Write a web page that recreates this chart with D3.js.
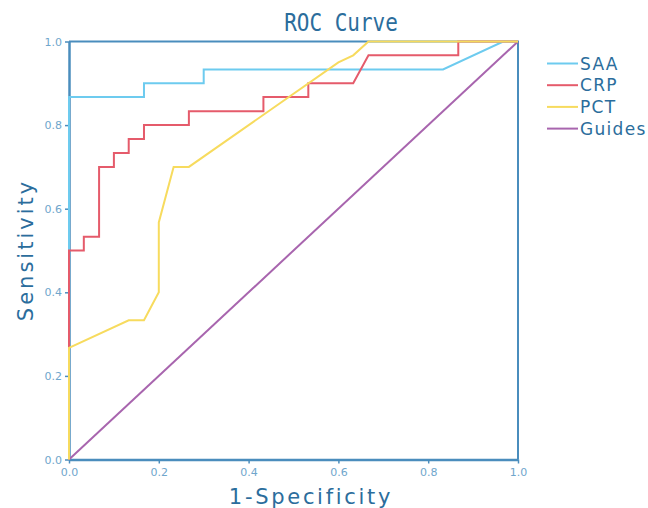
<!DOCTYPE html>
<html>
<head>
<meta charset="utf-8">
<script src="https://cdn.jsdelivr.net/npm/d3@7"></script>
<style>
  body { margin: 0; background: #fff; }
  .tick text { font-family: "DejaVu Sans", sans-serif; font-size: 11px; fill: #6fa6cc; }
  .tick line, .domain { stroke: #4a8dbd; }
</style>
</head>
<body>
<div id="chart"></div>
<script>
// ROC data (1-specificity / sensitivity)
var saaX = [0, 0, 0.167, 0.167, 0.3, 0.3, 0.833, 0.967, 1];
var saaY = [0, 0.867, 0.867, 0.9, 0.9, 0.933, 0.933, 1, 1];

var crpX = [0, 0, 0.033, 0.033, 0.067, 0.067, 0.1, 0.1, 0.133, 0.133, 0.167, 0.167, 0.267, 0.267, 0.433, 0.433, 0.533, 0.533, 0.633, 0.667, 0.867, 0.867, 1];
var crpY = [0, 0.5, 0.5, 0.533, 0.533, 0.7, 0.7, 0.733, 0.733, 0.767, 0.767, 0.8, 0.8, 0.833, 0.833, 0.867, 0.867, 0.9, 0.9, 0.967, 0.967, 1, 1];

var pctX = [0, 0, 0.133, 0.167, 0.2, 0.2, 0.233, 0.267, 0.6, 0.633, 0.667, 1];
var pctY = [0, 0.267, 0.333, 0.333, 0.4, 0.567, 0.7, 0.7, 0.95, 0.967, 1, 1];

var guideX = [0, 1];
var guideY = [0, 1];

var tickVals = [0, 0.2, 0.4, 0.6, 0.8, 1.0];
var seriesNames = ["SAA", "CRP", "PCT", "Guides"];
var seriesColors = ["#6dcbef", "#e55b6b", "#f7db5e", "#a865ae"];

var width = 648, height = 508;
var svg = d3.select("#chart").append("svg")
  .attr("width", width).attr("height", height);

var x = d3.scaleLinear().domain([0, 1]).range([69, 518]);
var y = d3.scaleLinear().domain([0, 1]).range([459.5, 41.5]);

// frame: top and right
svg.append("path")
  .attr("d", "M" + x(0) + "," + y(1) + "H" + x(1) + "V" + y(0))
  .attr("fill", "none").attr("stroke", "#4a8dbd").attr("stroke-width", 2);

var xAxis = svg.append("g")
  .attr("transform", "translate(0," + y(0) + ")")
  .call(d3.axisBottom(x).tickValues(tickVals).tickFormat(d3.format(".1f")).tickSize(4).tickSizeOuter(0));
xAxis.select(".domain").attr("stroke-width", 2.5);
xAxis.selectAll(".tick text").attr("dy", "0.9em");

var yAxis = svg.append("g")
  .attr("transform", "translate(" + x(0) + ",0)")
  .call(d3.axisLeft(y).tickValues(tickVals).tickFormat(d3.format(".1f")).tickSize(4).tickSizeOuter(0));
yAxis.select(".domain").attr("stroke-width", 2.5);
yAxis.selectAll(".tick line").attr("stroke-width", 1.5);
xAxis.selectAll(".tick line").attr("stroke-width", 1.5);

var line = d3.line()
  .x(function(d) { return x(d[0]); })
  .y(function(d) { return y(d[1]); });

var series = [
  { xs: guideX, ys: guideY, color: seriesColors[3] },
  { xs: saaX, ys: saaY, color: seriesColors[0] },
  { xs: crpX, ys: crpY, color: seriesColors[1] },
  { xs: pctX, ys: pctY, color: seriesColors[2] }
];

svg.selectAll(".curve")
  .data(series)
  .enter().append("path")
  .attr("class", "curve")
  .attr("fill", "none")
  .attr("stroke", function(d) { return d.color; })
  .attr("stroke-width", 2)
  .attr("d", function(d) { return line(d.xs.map(function(v, i) { return [v, d.ys[i]]; })); });

// titles
svg.append("text")
  .attr("transform", "translate(341,31) scale(1,1.2)")
  .attr("text-anchor", "middle")
  .attr("font-family", "DejaVu Sans Mono, monospace")
  .attr("font-size", 21)
  .attr("fill", "#2b6d9c")
  .text("ROC Curve");

svg.append("text")
  .attr("x", 311).attr("y", 504)
  .attr("text-anchor", "middle")
  .attr("font-family", "DejaVu Sans, sans-serif")
  .attr("font-size", 21)
  .attr("letter-spacing", 2.7)
  .attr("fill", "#2b6d9c")
  .text("1-Specificity");

svg.append("text")
  .attr("transform", "translate(33,250) rotate(-90)")
  .attr("text-anchor", "middle")
  .attr("font-family", "DejaVu Sans, sans-serif")
  .attr("font-size", 21)
  .attr("letter-spacing", 3)
  .attr("fill", "#2b6d9c")
  .text("Sensitivity");

// legend
var legend = svg.selectAll(".legend")
  .data(seriesNames)
  .enter().append("g")
  .attr("class", "legend")
  .attr("transform", function(d, i) { return "translate(547," + (63.5 + i * 21.7) + ")"; });

legend.append("line")
  .attr("x1", 0).attr("x2", 31)
  .attr("stroke", function(d, i) { return seriesColors[i]; })
  .attr("stroke-width", 2);

legend.append("text")
  .attr("x", 33).attr("dy", "0.36em")
  .attr("font-family", "DejaVu Sans, sans-serif")
  .attr("font-size", 17)
  .attr("letter-spacing", 1.3)
  .attr("fill", "#2b6d9c")
  .text(function(d) { return d; });
</script>
</body>
</html>
